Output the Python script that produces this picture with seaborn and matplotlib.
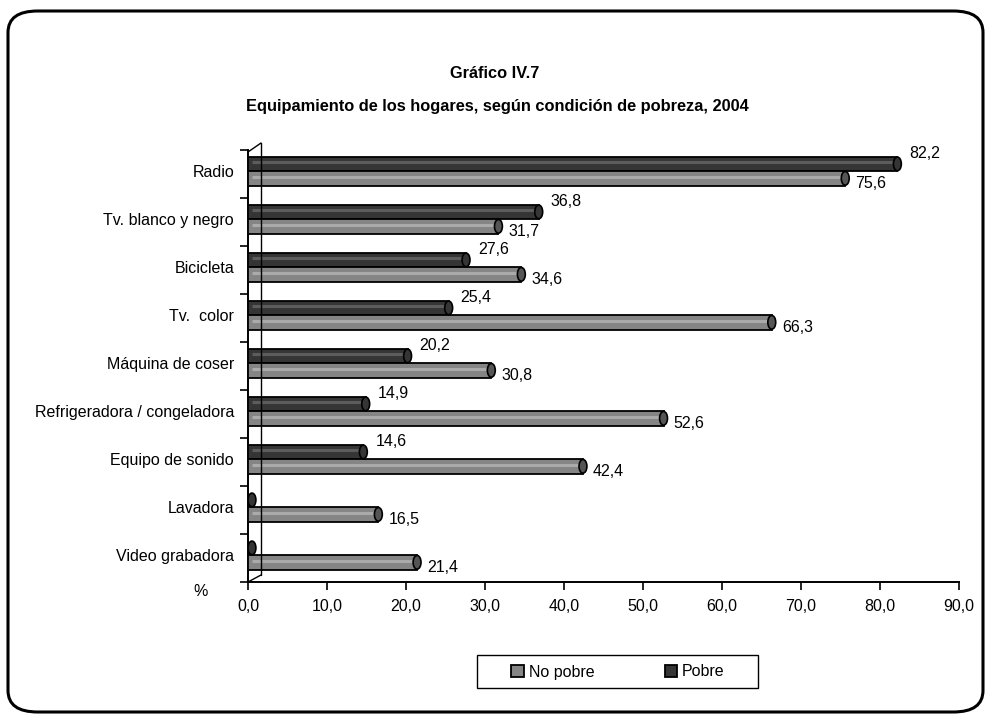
import matplotlib
matplotlib.use("Agg")
import matplotlib.pyplot as plt
import seaborn as sns
import pandas as pd
import numpy as np
from matplotlib.patches import Ellipse, FancyBboxPatch, Rectangle
from matplotlib.lines import Line2D
from matplotlib import font_manager

categories = ["Radio", "Tv. blanco y negro", "Bicicleta", "Tv.  color",
              "Máquina de coser", "Refrigeradora / congeladora",
              "Equipo de sonido", "Lavadora", "Video grabadora"]
pobre = [82.2, 36.8, 27.6, 25.4, 20.2, 14.9, 14.6, 0.0, 0.0]
no_pobre = [75.6, 31.7, 34.6, 66.3, 30.8, 52.6, 42.4, 16.5, 21.4]
xticks = [0, 10, 20, 30, 40, 50, 60, 70, 80, 90]
title1 = "Gráfico IV.7"
title2 = "Equipamiento de los hogares, según condición de pobreza, 2004"

sns.set_theme(style="white")
avail = {f.name for f in font_manager.fontManager.ttflist}
fam = ["Liberation Sans Narrow", "Liberation Sans", "DejaVu Sans"]
fam = [f for f in fam if f in avail] or ["DejaVu Sans"]
plt.rcParams["font.family"] = fam
for k in ["text.color", "axes.labelcolor", "xtick.color", "ytick.color"]:
    plt.rcParams[k] = "black"

df = pd.DataFrame({
    "Equipo": categories * 2,
    "Valor": pobre + no_pobre,
    "Condición": ["Pobre"] * len(categories) + ["No pobre"] * len(categories),
})

col_pobre = "#353535"
col_nopobre = "#858585"

W, H = 990, 716
fig = plt.figure(figsize=(W / 100, H / 100), dpi=100)
ax = fig.add_axes([248 / W, 1 - 582 / H, 711 / W, (582 - 150) / H])

sns.barplot(data=df, y="Equipo", x="Valor", hue="Condición",
            hue_order=["Pobre", "No pobre"], order=categories,
            palette={"Pobre": col_pobre, "No pobre": col_nopobre},
            orient="h", width=0.6, edgecolor="black", linewidth=1.3,
            legend=False, ax=ax, zorder=3)

ax.set_xlim(0, 90)
shift = 0.06
n = len(categories)
ax.set_ylim(n - 0.5 + shift, -0.5 + shift)

# cylinder caps, highlights and labels
for cont, vals, series in zip(ax.containers, [pobre, no_pobre], ["Pobre", "No pobre"]):
    for patch, v in zip(cont.patches, vals):
        y0 = patch.get_y()
        h = patch.get_height()
        yc = y0 + h / 2
        x0 = 0.5
        if v > 1:
            hl = "#5c5c5c" if series == "Pobre" else "#aaaaaa"
            ax.plot([x0, v], [yc - h * 0.12, yc - h * 0.12], color=hl, lw=2.2,
                    zorder=4, solid_capstyle="butt")
        ax.add_patch(Ellipse((x0 if v < 1 else v, yc), width=1.0, height=h * 0.95,
                             facecolor=col_pobre if series == "Pobre" else "#555555",
                             edgecolor="black", lw=1.2, zorder=5))
        if v > 0:
            txt = f"{v:.1f}".replace(".", ",")
            if series == "Pobre":
                ax.annotate(txt, (v, yc), xytext=(12, 10), textcoords="offset pixels",
                            ha="left", va="center", fontsize=11.5, color="black")
            else:
                ax.annotate(txt, (v, yc), xytext=(10, -5), textcoords="offset pixels",
                            ha="left", va="center", fontsize=11.5, color="black")

# axes styling
ax.set_xlabel("")
ax.set_ylabel("")
ax.set_xticks(xticks)
ax.set_xticklabels([f"{t:.1f}".replace(".", ",") for t in xticks], fontsize=11.5)
ax.set_yticks(range(n))
ax.set_yticklabels(categories, fontsize=11.5)
ax.set_yticks(np.arange(-0.5 + shift, n, 1), minor=True)
ax.tick_params(axis="y", which="major", length=0, pad=10)
ax.tick_params(axis="y", which="minor", length=6, width=1.2, color="black", direction="out", left=True)
ax.tick_params(axis="x", which="major", length=6, width=1.2, color="black", direction="out", bottom=True, pad=6)
for s in ["top", "right"]:
    ax.spines[s].set_visible(False)
for s in ["left", "bottom"]:
    ax.spines[s].set_color("black")
    ax.spines[s].set_linewidth(1.4)
ax.grid(False)

def fx(x):
    return x / W

def fy(y):
    return 1 - y / H

# 3D back wall lines
for (xa, ya), (xb, yb) in [((261, 143), (261, 575)), ((248, 152), (261, 143)), ((248, 582), (261, 575))]:
    fig.add_artist(Line2D([fx(xa), fx(xb)], [fy(ya), fy(yb)], color="black", lw=1.0))

# titles
fig.text(fx(495), fy(73), title1, ha="center", va="center", fontsize=11.8, fontweight="bold")
fig.text(fx(497), fy(106), title2, ha="center", va="center", fontsize=11.8, fontweight="bold")
fig.text(fx(201), fy(592), "%", ha="center", va="center", fontsize=11.5)

# legend
fig.add_artist(Rectangle((fx(477), fy(688)), (758 - 477) / W, (688 - 655) / H,
                         transform=fig.transFigure, facecolor="white",
                         edgecolor="black", lw=1.0))
handles = [plt.Rectangle((0, 0), 1, 1, facecolor=col_nopobre, edgecolor="black", lw=1.3),
           plt.Rectangle((0, 0), 1, 1, facecolor=col_pobre, edgecolor="black", lw=1.3)]
leg = fig.legend(handles, ["No pobre", "Pobre"], loc="center", bbox_to_anchor=(fx(618), fy(672)),
                 ncol=2, frameon=False, fontsize=11.5, handlelength=0.8,
                 handleheight=0.8, handletextpad=0.3, columnspacing=4.4,
                 borderpad=0.5)

# outer rounded frame
fig.add_artist(FancyBboxPatch((fx(8), fy(712)), (983 - 8) / W, (712 - 11) / H,
                              boxstyle="round,pad=0,rounding_size=0.03",
                              transform=fig.transFigure, facecolor="none",
                              edgecolor="black", lw=2.2))

fig.savefig("out.png", dpi=100)
